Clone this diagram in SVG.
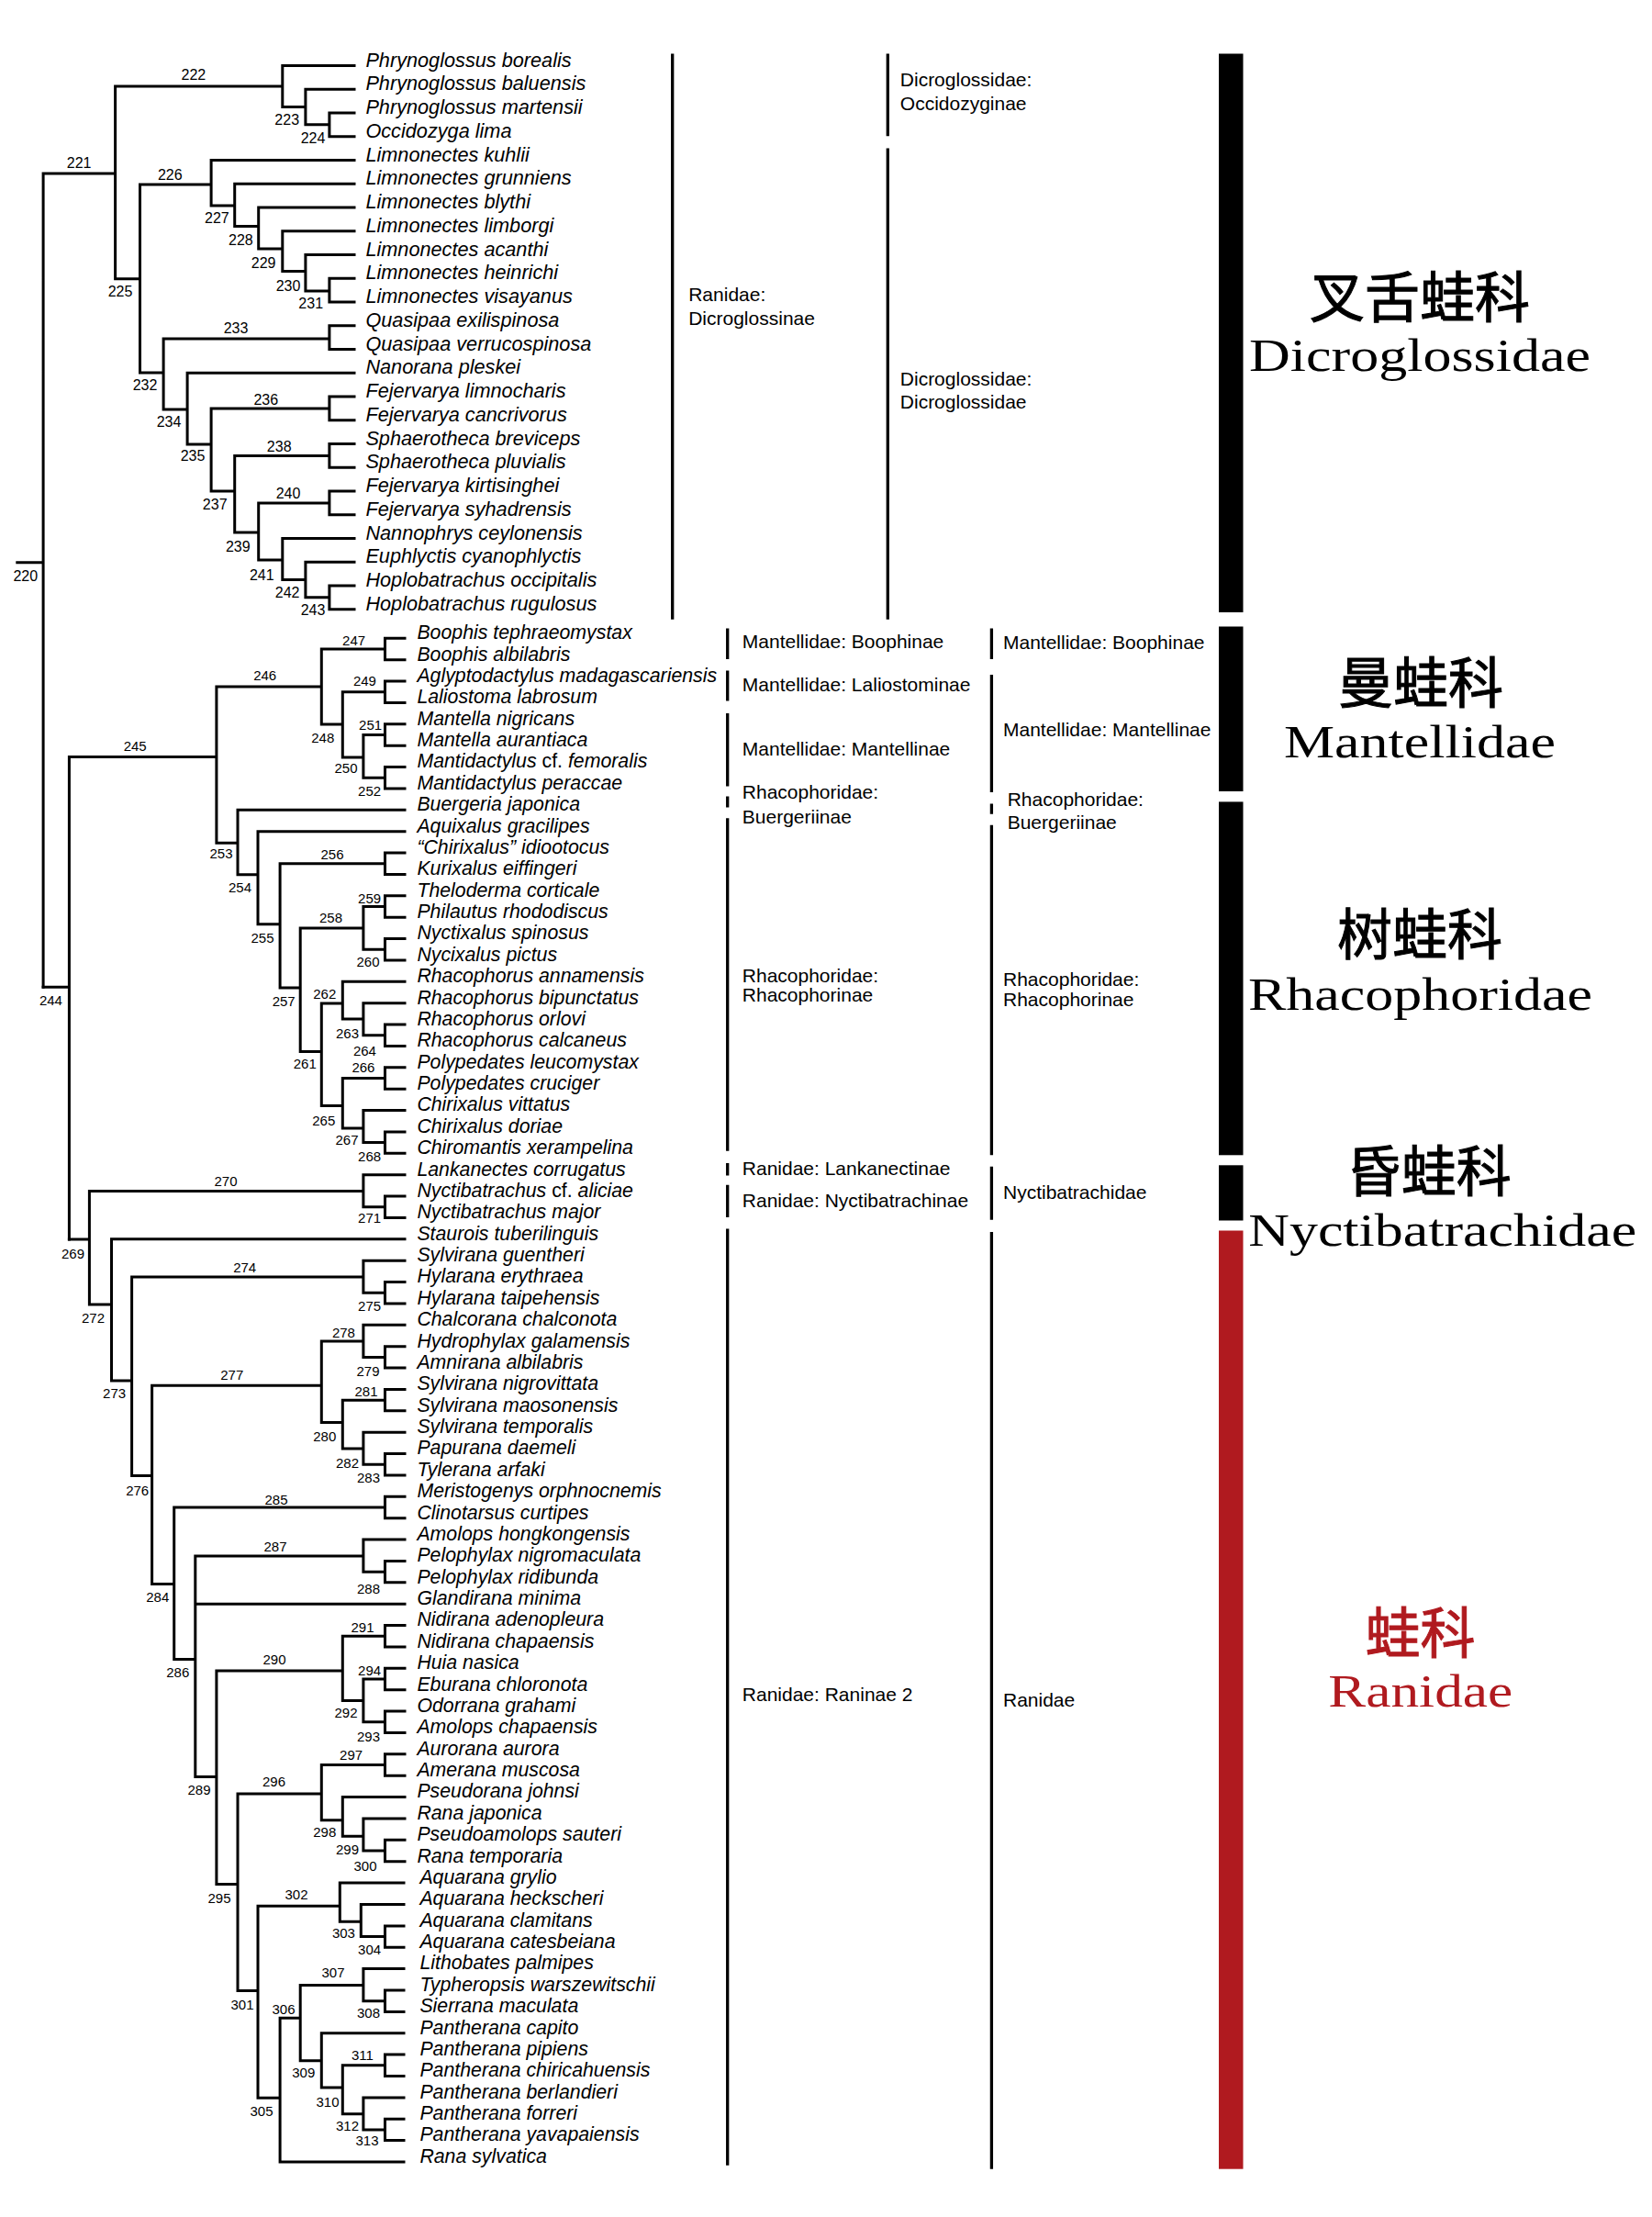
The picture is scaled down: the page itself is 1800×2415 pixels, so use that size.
<svg xmlns="http://www.w3.org/2000/svg" width="1800" height="2415" viewBox="0 0 1800 2415">
<style>
.tx{font-family:"Liberation Sans",Arial,sans-serif;font-style:italic;font-size:21.3px;fill:#000}
#taxa-dicroglossidae{font-size:21.7px}
.tx tspan.up{font-style:normal}
.n1{font-family:"Liberation Sans",Arial,sans-serif;font-size:16px;text-anchor:middle;fill:#000}
.n2{font-family:"Liberation Sans",Arial,sans-serif;font-size:15px;text-anchor:middle;fill:#000}
.cl{font-family:"Liberation Sans",Arial,sans-serif;font-size:21px;fill:#000}
.big{font-family:"Liberation Serif","Times New Roman",serif;font-size:50px;text-anchor:middle}
.cjk{font-family:"Noto Sans CJK SC",sans-serif;font-size:60px;text-anchor:middle;stroke:#000;stroke-width:1}
.cjk.red{stroke:#b01a1f}
.tree{fill:none;stroke:#000;stroke-width:3;stroke-linecap:square}
.col{fill:none;stroke:#000;stroke-width:3.3}
.blk{fill:#000}
.red{fill:#b01a1f}
</style>
<rect width="1800" height="2415" fill="#fff"/>
<g id="connectors">
<path class="tree" d="M18.8 612.7H47.1 M47.1 189V1075.3 M47.1 189H125.6 M125.6 94V303.7 M125.6 94H307.8 M307.8 71.4V116.5 M307.8 71.4H386 M307.8 116.5H332.9 M332.9 97.2V135.8 M332.9 97.2H386 M332.9 135.8H358.9 M358.9 122.9V148.7 M358.9 122.9H386 M358.9 148.7H386 M125.6 303.7H152.5 M152.5 201V406 M152.5 201H230.1 M230.1 174.4V224 M230.1 174.4H386 M230.1 224H255.7 M255.7 200.2V246.5 M255.7 200.2H386 M255.7 246.5H281.7 M281.7 225.9V271 M281.7 225.9H386 M281.7 271H307.8 M307.8 251.7V295.5 M307.8 251.7H386 M307.8 295.5H332.9 M332.9 277.4V317 M332.9 277.4H386 M332.9 317H358.9 M358.9 303.2V328.9 M358.9 303.2H386 M358.9 328.9H386 M152.5 406H178.1 M178.1 369V446 M178.1 369H358.9 M358.9 354.7V380.4 M358.9 354.7H386 M358.9 380.4H386 M178.1 446H204.1 M204.1 406.2V484 M204.1 406.2H386 M204.1 484H230.1 M230.1 445V535 M230.1 445H358.9 M358.9 431.9V457.7 M358.9 431.9H386 M358.9 457.7H386 M230.1 535H255.7 M255.7 496.5V580 M255.7 496.5H358.9 M358.9 483.4V509.2 M358.9 483.4H386 M358.9 509.2H386 M255.7 580H281.7 M281.7 548V610 M281.7 548H358.9 M358.9 534.9V560.7 M358.9 534.9H386 M358.9 560.7H386 M281.7 610H307.8 M307.8 586.4V631.5 M307.8 586.4H386 M307.8 631.5H332.9 M332.9 612.2V650.8 M332.9 612.2H386 M332.9 650.8H358.9 M358.9 637.9V663.7 M358.9 637.9H386 M358.9 663.7H386"/>
<path class="tree" d="M47.1 1075.3H75.4 M75.4 824.5V1350 M75.4 824.5H235.9 M235.9 748V918.3 M235.9 748H350.3 M350.3 707V789 M350.3 707H419.5 M419.5 695.3V718.7 M419.5 695.3H441 M419.5 718.7H441 M350.3 789H373.3 M373.3 753.8V825 M373.3 753.8H419.5 M419.5 742.1V765.4 M419.5 742.1H441 M419.5 765.4H441 M373.3 825H395.9 M395.9 800.5V847.3 M395.9 800.5H419.5 M419.5 788.8V812.2 M419.5 788.8H441 M419.5 812.2H441 M395.9 847.3H419.5 M419.5 835.6V858.9 M419.5 835.6H441 M419.5 858.9H441 M235.9 918.3H259 M259 882.3V952.8 M259 882.3H441 M259 952.8H281 M281 905.7V1006.7 M281 905.7H441 M281 1006.7H305.1 M305.1 940.8V1076.1 M305.1 940.8H419.5 M419.5 929.1V952.4 M419.5 929.1H441 M419.5 952.4H441 M305.1 1076.1H327.2 M327.2 1011V1145.6 M327.2 1011H395.9 M395.9 987.5V1034.3 M395.9 987.5H419.5 M419.5 975.8V999.2 M419.5 975.8H441 M419.5 999.2H441 M395.9 1034.3H419.5 M419.5 1022.6V1045.9 M419.5 1022.6H441 M419.5 1045.9H441 M327.2 1145.6H350.3 M350.3 1093V1204.5 M350.3 1093H373.3 M373.3 1069.3V1110 M373.3 1069.3H441 M373.3 1110H395.9 M395.9 1092.7V1127.8 M395.9 1092.7H441 M395.9 1127.8H419.5 M419.5 1116.1V1139.4 M419.5 1116.1H441 M419.5 1139.4H441 M350.3 1204.5H373.3 M373.3 1174.5V1229 M373.3 1174.5H419.5 M419.5 1162.8V1186.2 M419.5 1162.8H441 M419.5 1186.2H441 M373.3 1229H395.9 M395.9 1209.6V1244.6 M395.9 1209.6H441 M395.9 1244.6H419.5 M419.5 1232.9V1256.3 M419.5 1232.9H441 M419.5 1256.3H441"/>
<path class="tree" d="M75.4 1350H97.4 M97.4 1297.5V1421 M97.4 1297.5H395.9 M395.9 1279.7V1314.8 M395.9 1279.7H441 M395.9 1314.8H419.5 M419.5 1303.1V1326.4 M419.5 1303.1H441 M419.5 1326.4H441 M97.4 1421H121.5 M121.5 1349.8V1504 M121.5 1349.8H441 M121.5 1504H143.6 M143.6 1391V1607.5 M143.6 1391H395.9 M395.9 1373.2V1408.3 M395.9 1373.2H441 M395.9 1408.3H419.5 M419.5 1396.6V1419.9 M419.5 1396.6H441 M419.5 1419.9H441 M143.6 1607.5H165.6 M165.6 1509.3V1725.4 M165.6 1509.3H350.3 M350.3 1461V1549.6 M350.3 1461H395.9 M395.9 1443.3V1478.4 M395.9 1443.3H441 M395.9 1478.4H419.5 M419.5 1466.7V1490.1 M419.5 1466.7H441 M419.5 1490.1H441 M350.3 1549.6H373.3 M373.3 1525.2V1578 M373.3 1525.2H419.5 M419.5 1513.5V1536.8 M419.5 1513.5H441 M419.5 1536.8H441 M373.3 1578H395.9 M395.9 1560.2V1595.3 M395.9 1560.2H441 M395.9 1595.3H419.5 M419.5 1583.6V1607 M419.5 1583.6H441 M419.5 1607H441 M165.6 1725.4H189.7 M189.7 1642V1807.5 M189.7 1642H419.5 M419.5 1630.3V1653.7 M419.5 1630.3H441 M419.5 1653.7H441 M189.7 1807.5H212.8 M212.8 1695V1935.6 M212.8 1695H395.9 M395.9 1677.1V1712.2 M395.9 1677.1H441 M395.9 1712.2H419.5 M419.5 1700.5V1723.8 M419.5 1700.5H441 M419.5 1723.8H441 M212.8 1747.2H441 M212.8 1935.6H235.9 M235.9 1820V2052.4 M235.9 1820H373.3 M373.3 1782.3V1852.4 M373.3 1782.3H419.5 M419.5 1770.6V1794 M419.5 1770.6H441 M419.5 1794H441 M373.3 1852.4H395.9 M395.9 1829V1875.8 M395.9 1829H419.5 M419.5 1817.3V1840.7 M419.5 1817.3H441 M419.5 1840.7H441 M395.9 1875.8H419.5 M419.5 1864.1V1887.5 M419.5 1864.1H441 M419.5 1887.5H441 M235.9 2052.4H259 M259 1954V2168.5 M259 1954H350.3 M350.3 1922.5V1982.7 M350.3 1922.5H419.5 M419.5 1910.8V1934.2 M419.5 1910.8H441 M419.5 1934.2H441 M350.3 1982.7H373.3 M373.3 1957.6V2000.3 M373.3 1957.6H441 M373.3 2000.3H395.9 M395.9 1981V2016 M395.9 1981H441 M395.9 2016H419.5 M419.5 2004.3V2027.7 M419.5 2004.3H441 M419.5 2027.7H441 M259 2168.5H281 M281 2076.3V2285.2 M281 2076.3H370.3 M370.3 2051.1V2093.2 M370.3 2051.1H440 M370.3 2093.2H393.3 M393.3 2074.5V2109.5 M393.3 2074.5H440 M393.3 2109.5H419.5 M419.5 2097.9V2121.2 M419.5 2097.9H440 M419.5 2121.2H440 M281 2285.2H305.1 M305.1 2198.3V2355 M305.1 2355H440 M305.1 2198.3H327.2 M327.2 2162.5V2244.7 M327.2 2162.5H395.9 M395.9 2144.6V2179.7 M395.9 2144.6H440 M395.9 2179.7H419.5 M419.5 2168V2191.4 M419.5 2168H440 M419.5 2191.4H440 M327.2 2244.7H350.3 M350.3 2214.7V2274 M350.3 2214.7H440 M350.3 2274H373.3 M373.3 2249.8V2302.8 M373.3 2249.8H419.5 M419.5 2238.1V2261.5 M419.5 2238.1H440 M419.5 2261.5H440 M373.3 2302.8H395.9 M395.9 2284.9V2319.9 M395.9 2284.9H440 M395.9 2319.9H419.5 M419.5 2308.2V2331.6 M419.5 2308.2H440 M419.5 2331.6H440"/>
</g>
<g id="node-labels">
<text class="n1" x="27.8" y="632.8">220</text><text class="n1" x="86.1" y="182.5">221</text><text class="n1" x="210.9" y="86.6">222</text><text class="n1" x="312.7" y="136.4">223</text><text class="n1" x="341" y="156">224</text><text class="n1" x="131" y="323.4">225</text><text class="n1" x="185.3" y="196">226</text><text class="n1" x="236.4" y="242.5">227</text><text class="n1" x="262.4" y="266.6">228</text><text class="n1" x="287.1" y="291.9">229</text><text class="n1" x="314" y="316.8">230</text><text class="n1" x="338.7" y="336.4">231</text><text class="n1" x="158" y="425.4">232</text><text class="n1" x="257" y="363.4">233</text><text class="n1" x="184" y="465">234</text><text class="n1" x="210" y="502.1">235</text><text class="n1" x="289.8" y="440.9">236</text><text class="n1" x="234.2" y="554.8">237</text><text class="n1" x="304.2" y="491.5">238</text><text class="n1" x="259.3" y="600.9">239</text><text class="n1" x="314" y="542.9">240</text><text class="n1" x="285.3" y="631.5">241</text><text class="n1" x="313.1" y="650.7">242</text><text class="n1" x="341" y="670.3">243</text>
<text class="n2" x="55.4" y="1095">244</text><text class="n2" x="147.2" y="818.4">245</text><text class="n2" x="288.7" y="740.6">246</text><text class="n2" x="385.6" y="702.8">247</text><text class="n2" x="351.8" y="809.2">248</text><text class="n2" x="397.4" y="746.9">249</text><text class="n2" x="377" y="842.4">250</text><text class="n2" x="403.6" y="795.4">251</text><text class="n2" x="402.6" y="866.9">252</text><text class="n2" x="241" y="935.4">253</text><text class="n2" x="261.5" y="972.1">254</text><text class="n2" x="286" y="1026.8">255</text><text class="n2" x="362" y="936.4">256</text><text class="n2" x="309.2" y="1096.3">257</text><text class="n2" x="360.5" y="1004.9">258</text><text class="n2" x="402.6" y="983.9">259</text><text class="n2" x="401" y="1053.4">260</text><text class="n2" x="332.3" y="1164.4">261</text><text class="n2" x="353.8" y="1087.9">262</text><text class="n2" x="378.5" y="1131.2">263</text><text class="n2" x="397.4" y="1149.7">264</text><text class="n2" x="352.8" y="1225.9">265</text><text class="n2" x="395.9" y="1167.8">266</text><text class="n2" x="378" y="1246.9">267</text><text class="n2" x="402.6" y="1264.6">268</text>
<text class="n2" x="79.5" y="1371.1">269</text><text class="n2" x="246" y="1292.4">270</text><text class="n2" x="402.6" y="1332.4">271</text><text class="n2" x="101.5" y="1441.4">272</text><text class="n2" x="124.6" y="1522.9">273</text><text class="n2" x="266.7" y="1386.1">274</text><text class="n2" x="402.6" y="1427.9">275</text><text class="n2" x="149.7" y="1629">276</text><text class="n2" x="252.8" y="1502.9">277</text><text class="n2" x="374.4" y="1457.4">278</text><text class="n2" x="401" y="1499.4">279</text><text class="n2" x="353.8" y="1570.4">280</text><text class="n2" x="399" y="1521.1">281</text><text class="n2" x="378.5" y="1598.6">282</text><text class="n2" x="401.5" y="1614.7">283</text><text class="n2" x="171.8" y="1745">284</text><text class="n2" x="301" y="1639">285</text><text class="n2" x="193.8" y="1827.2">286</text><text class="n2" x="300" y="1690.4">287</text><text class="n2" x="401.5" y="1736.1">288</text><text class="n2" x="217" y="1955">289</text><text class="n2" x="299" y="1812.9">290</text><text class="n2" x="395" y="1778.3">291</text><text class="n2" x="377" y="1870.8">292</text><text class="n2" x="401.5" y="1896.9">293</text><text class="n2" x="402.6" y="1825.4">294</text><text class="n2" x="239" y="2072.7">295</text><text class="n2" x="298.5" y="1946">296</text><text class="n2" x="382.6" y="1916.8">297</text><text class="n2" x="353.8" y="2001.4">298</text><text class="n2" x="378.5" y="2019.6">299</text><text class="n2" x="398" y="2037.9">300</text><text class="n2" x="264" y="2188.8">301</text><text class="n2" x="323" y="2068.7">302</text><text class="n2" x="374.4" y="2110.8">303</text><text class="n2" x="402.6" y="2129.1">304</text><text class="n2" x="285" y="2304.9">305</text><text class="n2" x="309" y="2193.8">306</text><text class="n2" x="363" y="2154">307</text><text class="n2" x="401.5" y="2198.1">308</text><text class="n2" x="330.8" y="2262.7">309</text><text class="n2" x="357" y="2294.9">310</text><text class="n2" x="395" y="2244.2">311</text><text class="n2" x="378.5" y="2321.4">312</text><text class="n2" x="400" y="2337.4">313</text>
</g>
<g id="taxa-dicroglossidae" class="tx">
<g id="t01"><text x="398.4" y="72.6">Phrynoglossus borealis</text></g>
<g id="t02"><text x="398.4" y="98.4">Phrynoglossus baluensis</text></g>
<g id="t03"><text x="398.4" y="124.1">Phrynoglossus martensii</text></g>
<g id="t04"><text x="398.4" y="149.9">Occidozyga lima</text></g>
<g id="t05"><text x="398.4" y="175.6">Limnonectes kuhlii</text></g>
<g id="t06"><text x="398.4" y="201.4">Limnonectes grunniens</text></g>
<g id="t07"><text x="398.4" y="227.1">Limnonectes blythi</text></g>
<g id="t08"><text x="398.4" y="252.9">Limnonectes limborgi</text></g>
<g id="t09"><text x="398.4" y="278.6">Limnonectes acanthi</text></g>
<g id="t10"><text x="398.4" y="304.4">Limnonectes heinrichi</text></g>
<g id="t11"><text x="398.4" y="330.1">Limnonectes visayanus</text></g>
<g id="t12"><text x="398.4" y="355.9">Quasipaa exilispinosa</text></g>
<g id="t13"><text x="398.4" y="381.6">Quasipaa verrucospinosa</text></g>
<g id="t14"><text x="398.4" y="407.4">Nanorana pleskei</text></g>
<g id="t15"><text x="398.4" y="433.1">Fejervarya limnocharis</text></g>
<g id="t16"><text x="398.4" y="458.9">Fejervarya cancrivorus</text></g>
<g id="t17"><text x="398.4" y="484.6">Sphaerotheca breviceps</text></g>
<g id="t18"><text x="398.4" y="510.4">Sphaerotheca pluvialis</text></g>
<g id="t19"><text x="398.4" y="536.1">Fejervarya kirtisinghei</text></g>
<g id="t20"><text x="398.4" y="561.9">Fejervarya syhadrensis</text></g>
<g id="t21"><text x="398.4" y="587.6">Nannophrys ceylonensis</text></g>
<g id="t22"><text x="398.4" y="613.4">Euphlyctis cyanophlyctis</text></g>
<g id="t23"><text x="398.4" y="639.1">Hoplobatrachus occipitalis</text></g>
<g id="t24"><text x="398.4" y="664.9">Hoplobatrachus rugulosus</text></g>
</g>
<g id="taxa-lower" class="tx">
<g id="u01"><text x="454.4" y="696.1">Boophis tephraeomystax</text></g>
<g id="u02"><text x="454.4" y="719.5">Boophis albilabris</text></g>
<g id="u03"><text x="454.4" y="742.9">Aglyptodactylus madagascariensis</text></g>
<g id="u04"><text x="454.4" y="766.2">Laliostoma labrosum</text></g>
<g id="u05"><text x="454.4" y="789.6">Mantella nigricans</text></g>
<g id="u06"><text x="454.4" y="813">Mantella aurantiaca</text></g>
<g id="u07"><text x="454.4" y="836.4">Mantidactylus <tspan class="up">cf.</tspan> femoralis</text></g>
<g id="u08"><text x="454.4" y="859.7">Mantidactylus peraccae</text></g>
<g id="u09"><text x="454.4" y="883.1">Buergeria japonica</text></g>
<g id="u10"><text x="454.4" y="906.5">Aquixalus gracilipes</text></g>
<g id="u11"><text x="454.4" y="929.9">“Chirixalus” idiootocus</text></g>
<g id="u12"><text x="454.4" y="953.2">Kurixalus eiffingeri</text></g>
<g id="u13"><text x="454.4" y="976.6">Theloderma corticale</text></g>
<g id="u14"><text x="454.4" y="1000">Philautus rhododiscus</text></g>
<g id="u15"><text x="454.4" y="1023.4">Nyctixalus spinosus</text></g>
<g id="u16"><text x="454.4" y="1046.7">Nycixalus pictus</text></g>
<g id="u17"><text x="454.4" y="1070.1">Rhacophorus annamensis</text></g>
<g id="u18"><text x="454.4" y="1093.5">Rhacophorus bipunctatus</text></g>
<g id="u19"><text x="454.4" y="1116.9">Rhacophorus orlovi</text></g>
<g id="u20"><text x="454.4" y="1140.2">Rhacophorus calcaneus</text></g>
<g id="u21"><text x="454.4" y="1163.6">Polypedates leucomystax</text></g>
<g id="u22"><text x="454.4" y="1187">Polypedates cruciger</text></g>
<g id="u23"><text x="454.4" y="1210.4">Chirixalus vittatus</text></g>
<g id="u24"><text x="454.4" y="1233.7">Chirixalus doriae</text></g>
<g id="u25"><text x="454.4" y="1257.1">Chiromantis xerampelina</text></g>
<g id="u26"><text x="454.4" y="1280.5">Lankanectes corrugatus</text></g>
<g id="u27"><text x="454.4" y="1303.9">Nyctibatrachus <tspan class="up">cf.</tspan> aliciae</text></g>
<g id="u28"><text x="454.4" y="1327.2">Nyctibatrachus major</text></g>
<g id="u29"><text x="454.4" y="1350.6">Staurois tuberilinguis</text></g>
<g id="u30"><text x="454.4" y="1374">Sylvirana guentheri</text></g>
<g id="u31"><text x="454.4" y="1397.4">Hylarana erythraea</text></g>
<g id="u32"><text x="454.4" y="1420.7">Hylarana taipehensis</text></g>
<g id="u33"><text x="454.4" y="1444.1">Chalcorana chalconota</text></g>
<g id="u34"><text x="454.4" y="1467.5">Hydrophylax galamensis</text></g>
<g id="u35"><text x="454.4" y="1490.9">Amnirana albilabris</text></g>
<g id="u36"><text x="454.4" y="1514.3">Sylvirana nigrovittata</text></g>
<g id="u37"><text x="454.4" y="1537.6">Sylvirana maosonensis</text></g>
<g id="u38"><text x="454.4" y="1561">Sylvirana temporalis</text></g>
<g id="u39"><text x="454.4" y="1584.4">Papurana daemeli</text></g>
<g id="u40"><text x="454.4" y="1607.8">Tylerana arfaki</text></g>
<g id="u41"><text x="454.4" y="1631.1">Meristogenys orphnocnemis</text></g>
<g id="u42"><text x="454.4" y="1654.5">Clinotarsus curtipes</text></g>
<g id="u43"><text x="454.4" y="1677.9">Amolops hongkongensis</text></g>
<g id="u44"><text x="454.4" y="1701.3">Pelophylax nigromaculata</text></g>
<g id="u45"><text x="454.4" y="1724.6">Pelophylax ridibunda</text></g>
<g id="u46"><text x="454.4" y="1748">Glandirana minima</text></g>
<g id="u47"><text x="454.4" y="1771.4">Nidirana adenopleura</text></g>
<g id="u48"><text x="454.4" y="1794.8">Nidirana chapaensis</text></g>
<g id="u49"><text x="454.4" y="1818.1">Huia nasica</text></g>
<g id="u50"><text x="454.4" y="1841.5">Eburana chloronota</text></g>
<g id="u51"><text x="454.4" y="1864.9">Odorrana grahami</text></g>
<g id="u52"><text x="454.4" y="1888.3">Amolops chapaensis</text></g>
<g id="u53"><text x="454.4" y="1911.6">Aurorana aurora</text></g>
<g id="u54"><text x="454.4" y="1935">Amerana muscosa</text></g>
<g id="u55"><text x="454.4" y="1958.4">Pseudorana johnsi</text></g>
<g id="u56"><text x="454.4" y="1981.8">Rana japonica</text></g>
<g id="u57"><text x="454.4" y="2005.1">Pseudoamolops sauteri</text></g>
<g id="u58"><text x="454.4" y="2028.5">Rana temporaria</text></g>
<g id="u59"><text x="457.4" y="2051.9">Aquarana grylio</text></g>
<g id="u60"><text x="457.4" y="2075.3">Aquarana heckscheri</text></g>
<g id="u61"><text x="457.4" y="2098.7">Aquarana clamitans</text></g>
<g id="u62"><text x="457.4" y="2122">Aquarana catesbeiana</text></g>
<g id="u63"><text x="457.4" y="2145.4">Lithobates palmipes</text></g>
<g id="u64"><text x="457.4" y="2168.8">Typheropsis warszewitschii</text></g>
<g id="u65"><text x="457.4" y="2192.2">Sierrana maculata</text></g>
<g id="u66"><text x="457.4" y="2215.5">Pantherana capito</text></g>
<g id="u67"><text x="457.4" y="2238.9">Pantherana pipiens</text></g>
<g id="u68"><text x="457.4" y="2262.3">Pantherana chiricahuensis</text></g>
<g id="u69"><text x="457.4" y="2285.7">Pantherana berlandieri</text></g>
<g id="u70"><text x="457.4" y="2309">Pantherana forreri</text></g>
<g id="u71"><text x="457.4" y="2332.4">Pantherana yavapaiensis</text></g>
<g id="u72"><text x="457.4" y="2355.8">Rana sylvatica</text></g>
</g>
<g id="classification-lines">
<path class="col" d="M732.7 58.4V674.7 M967.3 58.4V148.2 M967.3 161.6V674.7"/>
<path class="col" d="M792.7 684.6V718 M792.7 730.5V763.6 M792.7 777V856.4 M792.7 867.6V879.6 M792.7 891.3V1253.8 M792.7 1267V1280.5 M792.7 1290.8V1326 M792.7 1338.6V2358.8"/>
<path class="col" d="M1080.4 684.6V718 M1080.4 735V863 M1080.4 875.6V886.8 M1080.4 898.8V1258.2 M1080.4 1270.7V1328.8 M1080.4 1342V2362.7"/>
</g>
<g id="col-old" class="cl">
<g id="a-dicroglossinae"><text x="750.2" y="327.8">Ranidae:</text><text x="750.2" y="354.3">Dicroglossinae</text></g>
<g id="a-boophinae"><text x="808.8" y="706">Mantellidae: Boophinae</text></g>
<g id="a-laliostominae"><text x="808.8" y="752.9">Mantellidae: Laliostominae</text></g>
<g id="a-mantellinae"><text x="808.8" y="823">Mantellidae: Mantellinae</text></g>
<g id="a-buergeriinae"><text x="808.8" y="869.8">Rhacophoridae:</text><text x="808.8" y="896.6">Buergeriinae</text></g>
<g id="a-rhacophorinae"><text x="808.8" y="1069.8">Rhacophoridae:</text><text x="808.8" y="1091.3">Rhacophorinae</text></g>
<g id="a-lankanectinae"><text x="808.8" y="1279.6">Ranidae: Lankanectinae</text></g>
<g id="a-nyctibatrachinae"><text x="808.8" y="1314.9">Ranidae: Nyctibatrachinae</text></g>
<g id="a-raninae"><text x="808.8" y="1853.1">Ranidae: Raninae 2</text></g>
</g>
<g id="col-new" class="cl">
<g id="b-occidozyginae"><text x="980.8" y="94.3">Dicroglossidae:</text><text x="980.8" y="119.6">Occidozyginae</text></g>
<g id="b-dicroglossidae"><text x="980.8" y="419.6">Dicroglossidae:</text><text x="980.8" y="444.9">Dicroglossidae</text></g>
<g id="b-boophinae"><text x="1093" y="706.9">Mantellidae: Boophinae</text></g>
<g id="b-mantellinae"><text x="1093" y="802">Mantellidae: Mantellinae</text></g>
<g id="b-buergeriinae"><text x="1097.7" y="877.9">Rhacophoridae:</text><text x="1097.7" y="903.3">Buergeriinae</text></g>
<g id="b-rhacophorinae"><text x="1093" y="1074.3">Rhacophoridae:</text><text x="1093" y="1095.7">Rhacophorinae</text></g>
<g id="b-nyctibatrachidae"><text x="1093" y="1306">Nyctibatrachidae</text></g>
<g id="b-ranidae"><text x="1093" y="1858.8">Ranidae</text></g>
</g>
<g id="family-bars">
<rect class="blk" x="1328" y="58.5" width="26.5" height="608.5"/>
<rect class="blk" x="1328" y="682.5" width="26.5" height="179.5"/>
<rect class="blk" x="1328" y="873.4" width="26.5" height="384.9"/>
<rect class="blk" x="1328" y="1269.3" width="26.5" height="60.2"/>
<rect class="red" x="1328" y="1340.5" width="26.5" height="1022.2"/>
</g>
<g id="fam-dicroglossidae">
<text class="cjk" x="1547" y="346">叉舌蛙科</text>
<text class="big" x="1547" y="403.7" textLength="372" lengthAdjust="spacingAndGlyphs">Dicroglossidae</text>
</g>
<g id="fam-mantellidae">
<text class="cjk" x="1548" y="766">曼蛙科</text>
<text class="big" x="1547" y="824.8" textLength="296" lengthAdjust="spacingAndGlyphs">Mantellidae</text>
</g>
<g id="fam-rhacophoridae">
<text class="cjk" x="1547" y="1040">树蛙科</text>
<text class="big" x="1547.5" y="1100" textLength="375" lengthAdjust="spacingAndGlyphs">Rhacophoridae</text>
</g>
<g id="fam-nyctibatrachidae">
<text class="cjk" x="1556.7" y="1298">昏蛙科</text>
<text class="big" x="1571.7" y="1357.3" textLength="423" lengthAdjust="spacingAndGlyphs">Nyctibatrachidae</text>
</g>
<g id="fam-ranidae">
<text class="cjk red" x="1547.5" y="1801">蛙科</text>
<text class="big red" x="1547.8" y="1859" textLength="201" lengthAdjust="spacingAndGlyphs">Ranidae</text>
</g>
</svg>
